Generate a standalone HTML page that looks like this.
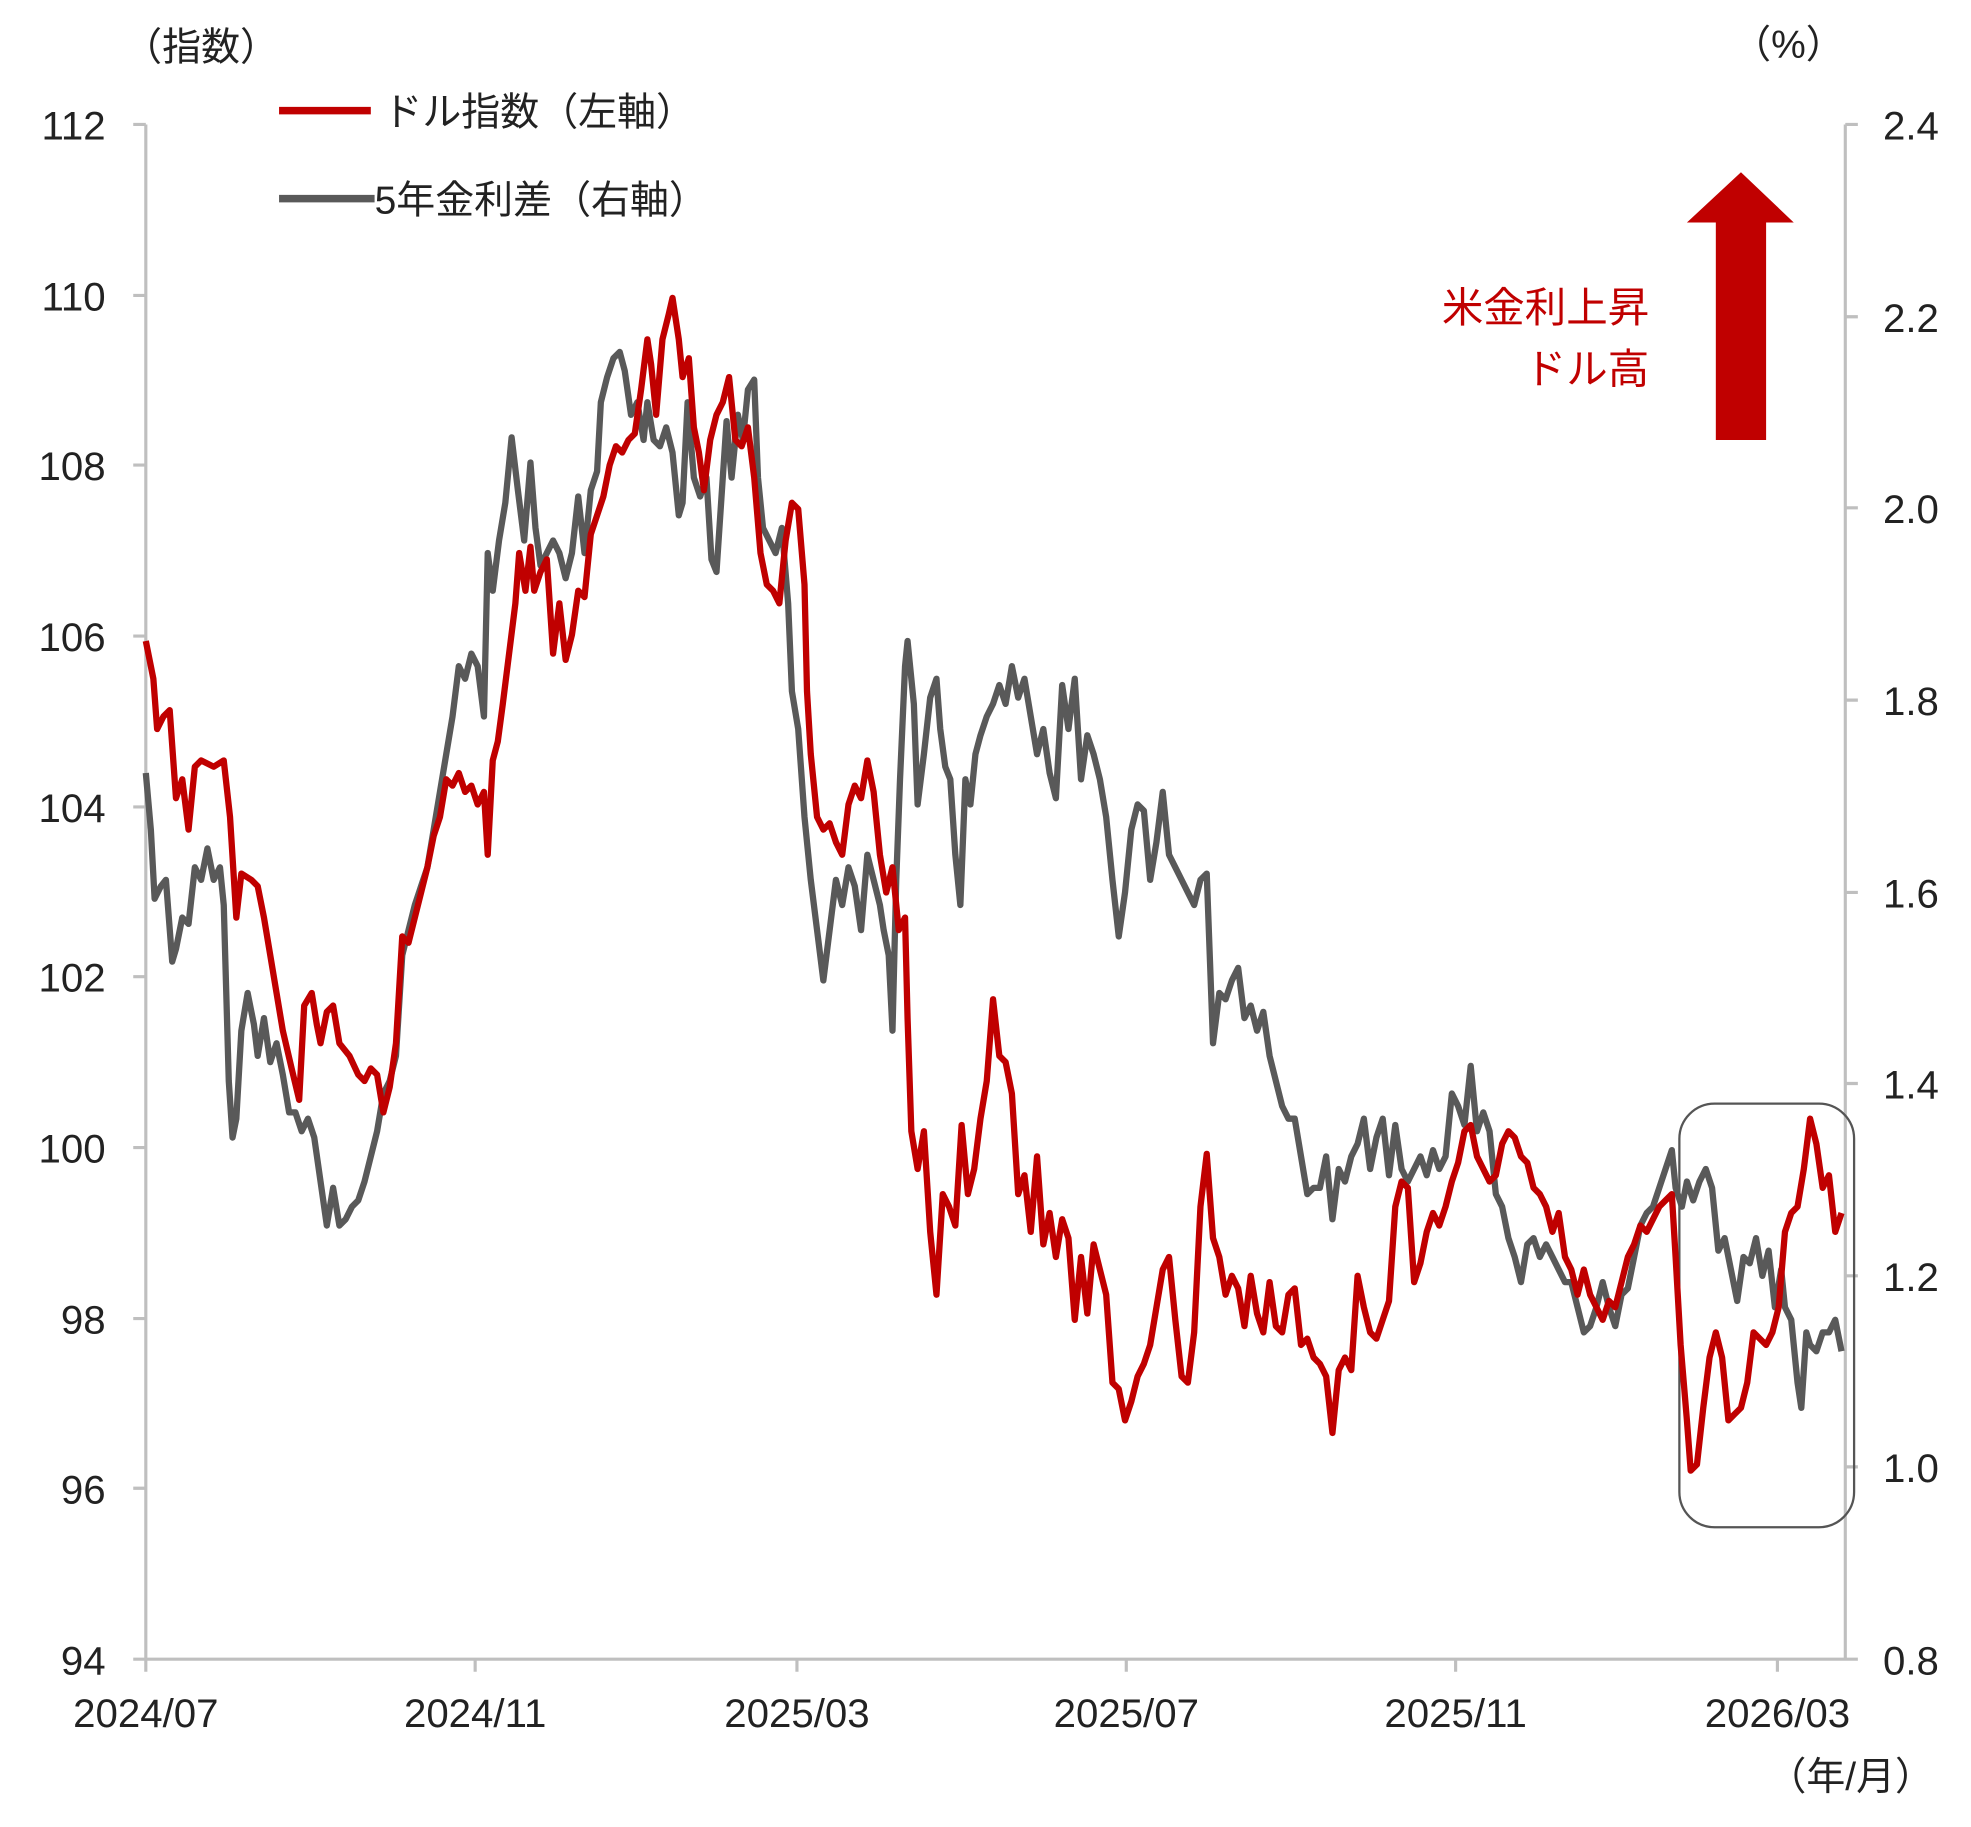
<!DOCTYPE html>
<html><head><meta charset="utf-8"><style>html,body{margin:0;padding:0;background:#fff}svg{display:block}
text{font-family:"Liberation Sans","Noto Sans CJK JP",sans-serif;}</style></head><body>
<svg width="1971" height="1827" viewBox="0 0 1568 1453.5" preserveAspectRatio="none" xmlns="http://www.w3.org/2000/svg">
<g stroke="#bfbfbf" stroke-width="2.5" fill="none">
<line x1="116" y1="99" x2="116" y2="1320"/><line x1="1468" y1="99" x2="1468" y2="1320"/><line x1="106" y1="1320" x2="1478" y2="1320"/>
<path d="M106 99H116M106 235H116M106 370H116M106 506H116M106 642H116M106 777H116M106 913H116M106 1049H116M106 1184H116"/>
<path d="M1468 99H1478M1468 252H1478M1468 404H1478M1468 557H1478M1468 710H1478M1468 862H1478M1468 1015H1478M1468 1167H1478"/>
<path d="M116 1320V1330M378 1320V1330M634 1320V1330M896 1320V1330M1158 1320V1330M1414 1320V1330"/>
</g>
<g font-size="32" fill="#222" text-anchor="end">
<text x="84" y="111">112</text><text x="84" y="247">110</text><text x="84" y="382">108</text><text x="84" y="518">106</text><text x="84" y="654">104</text><text x="84" y="789">102</text><text x="84" y="925">100</text><text x="84" y="1061">98</text><text x="84" y="1196">96</text><text x="84" y="1332">94</text>
</g>
<g font-size="32" fill="#222">
<text x="1498" y="111">2.4</text><text x="1498" y="264">2.2</text><text x="1498" y="416">2.0</text><text x="1498" y="569">1.8</text><text x="1498" y="722">1.6</text><text x="1498" y="874">1.4</text><text x="1498" y="1027">1.2</text><text x="1498" y="1179">1.0</text><text x="1498" y="1332">0.8</text>
</g>
<g font-size="32" fill="#222" text-anchor="middle">
<text x="116" y="1374">2024/07</text><text x="378" y="1374">2024/11</text><text x="634" y="1374">2025/03</text><text x="896" y="1374">2025/07</text><text x="1158" y="1374">2025/11</text><text x="1414" y="1374">2026/03</text>
</g>
<g font-size="31" fill="#222">
<text x="98" y="48">（指数）</text><text x="1378" y="46">（%）</text><text x="1406" y="1424">（年/月）</text>
<text x="305" y="100">ドル指数（左軸）</text><text x="298" y="170">5年金利差（右軸）</text>
</g>
<line x1="222" y1="88" x2="295" y2="88" stroke="#c00000" stroke-width="6"/>
<line x1="222" y1="158" x2="298" y2="158" stroke="#595959" stroke-width="6"/>
<g font-size="33" fill="#c00000" text-anchor="end"><text x="1312" y="256">米金利上昇</text><text x="1312" y="305">ドル高</text></g>
<path d="M1365 350V177H1342L1385 137L1427 177H1405V350Z" fill="#c00000"/>
<rect x="1336" y="878" width="139" height="337" rx="28" fill="none" stroke="#555" stroke-width="1.8"/>
<g fill="none" stroke-width="5" stroke-linejoin="round">
<polyline stroke="#595959" points="116,615 120,660 123,715 128,705 132,700 137,765 140,755 145,730 150,735 155,690 160,700 165,675 170,700 175,690 178,720 182,860 185,905 188,890 192,820 197,790 202,815 205,840 210,810 215,845 220,830 225,855 230,885 235,885 240,900 245,890 250,905 255,940 260,975 265,945 270,975 275,970 280,960 285,955 290,940 295,920 300,900 305,870 310,860 315,840 320,760 325,740 330,720 335,705 340,690 345,660 350,630 355,600 360,570 365,530 370,540 375,520 380,530 385,570 388,440 392,470 397,430 402,400 407,348 412,390 417,430 422,368 426,420 430,450 435,440 440,430 445,440 450,460 455,440 460,395 465,440 470,390 475,375 478,320 483,300 488,285 493,280 497,295 502,330 507,320 512,350 515,320 520,350 525,355 530,340 535,360 540,410 543,400 547,320 552,380 557,395 562,380 566,445 570,455 574,395 578,335 582,380 587,330 591,350 595,310 600,302 603,380 607,420 612,430 617,440 622,420 627,480 630,550 635,580 640,650 645,700 650,740 655,780 660,740 665,700 670,720 675,690 680,705 685,740 690,680 695,700 700,720 703,740 707,760 710,820 713,700 716,620 720,530 722,510 727,560 730,640 735,600 740,555 745,540 748,580 752,610 756,620 760,680 764,720 768,620 772,640 776,600 780,585 785,570 790,560 795,545 800,560 805,530 810,555 815,540 820,570 825,600 830,580 835,615 840,635 845,545 850,580 855,540 860,620 865,585 870,600 875,620 880,650 885,700 890,745 895,710 900,660 905,640 910,645 915,700 920,670 925,630 930,680 935,690 940,700 945,710 950,720 955,700 960,695 965,830 970,790 975,795 980,780 985,770 990,810 995,800 1000,820 1005,805 1010,840 1015,860 1020,880 1025,890 1030,890 1035,920 1040,950 1045,945 1050,945 1055,920 1060,970 1065,930 1070,940 1075,920 1080,910 1085,890 1090,930 1095,905 1100,890 1105,935 1110,895 1115,930 1120,940 1125,930 1130,920 1135,935 1140,915 1145,930 1150,920 1155,870 1160,880 1165,895 1170,848 1175,900 1180,885 1185,900 1190,950 1195,960 1200,985 1205,1000 1210,1020 1215,990 1220,985 1225,1000 1230,990 1235,1000 1240,1010 1245,1020 1250,1020 1255,1040 1260,1060 1265,1055 1270,1040 1275,1020 1280,1040 1285,1055 1290,1030 1295,1025 1300,1000 1305,975 1310,965 1315,960 1320,945 1325,930 1330,915 1333,945 1338,960 1342,940 1347,955 1352,940 1357,930 1362,945 1367,995 1372,985 1377,1010 1382,1035 1387,1000 1392,1005 1397,985 1402,1015 1407,995 1412,1040 1417,1010 1420,1040 1425,1050 1430,1100 1433,1120 1437,1060 1440,1070 1445,1075 1450,1060 1455,1060 1460,1050 1465,1075"/>
<polyline stroke="#c00000" points="116,510 122,540 125,580 130,570 135,565 140,635 145,620 150,660 155,610 160,605 170,610 178,605 183,650 188,730 192,695 200,700 205,705 210,730 215,760 220,790 225,820 232,850 238,875 242,800 248,790 252,815 255,830 260,805 265,800 270,830 278,840 285,855 290,860 295,850 300,855 305,885 310,865 315,830 320,745 325,750 330,730 335,710 340,690 345,665 350,650 355,620 360,625 365,615 370,630 375,625 380,640 385,630 388,680 392,605 396,590 400,560 405,520 410,480 413,440 418,470 422,435 425,470 430,455 435,445 440,520 445,480 450,525 455,505 460,470 465,475 470,425 475,410 480,395 485,370 490,355 495,360 500,350 505,345 510,310 515,270 518,290 522,330 527,270 532,250 535,237 540,270 543,300 548,285 552,340 556,360 560,390 565,350 570,330 575,320 580,300 585,350 590,355 595,340 600,380 605,440 610,465 615,470 620,480 625,430 630,400 635,405 640,465 642,550 645,600 650,650 655,660 660,655 665,670 670,680 675,640 680,625 685,635 690,605 695,630 700,680 705,710 710,690 715,740 720,730 722,810 725,900 730,930 735,900 740,980 745,1030 750,950 755,960 760,975 765,895 770,950 775,930 780,890 785,860 790,795 795,840 800,845 805,870 810,950 815,935 820,980 825,920 830,990 835,965 840,1000 845,970 850,985 855,1050 860,1000 865,1045 870,990 875,1010 880,1030 885,1100 890,1105 895,1130 900,1115 905,1095 910,1085 915,1070 920,1040 925,1010 930,1000 935,1050 940,1095 945,1100 950,1060 955,960 960,918 965,985 970,1000 975,1030 980,1015 985,1025 990,1055 995,1015 1000,1045 1005,1060 1010,1020 1015,1055 1020,1060 1025,1030 1030,1025 1035,1070 1040,1065 1045,1080 1050,1085 1055,1095 1060,1140 1065,1090 1070,1080 1075,1090 1080,1015 1085,1040 1090,1060 1095,1065 1100,1050 1105,1035 1110,960 1115,940 1120,945 1125,1020 1130,1005 1135,980 1140,965 1145,975 1150,960 1155,940 1160,925 1165,900 1170,895 1175,920 1180,930 1185,940 1190,935 1195,910 1200,900 1205,905 1210,920 1215,925 1220,945 1225,950 1230,960 1235,980 1240,965 1245,1000 1250,1010 1255,1030 1260,1010 1265,1030 1270,1040 1275,1050 1280,1035 1285,1040 1290,1020 1295,1000 1300,990 1305,975 1310,980 1315,970 1320,960 1325,955 1330,950 1333,1000 1337,1070 1342,1130 1345,1170 1350,1165 1355,1120 1360,1080 1365,1060 1370,1080 1375,1130 1380,1125 1385,1120 1390,1100 1395,1060 1400,1065 1405,1070 1410,1060 1415,1040 1420,980 1425,965 1430,960 1435,930 1440,890 1445,910 1450,945 1455,935 1460,980 1465,965"/>
</g>
</svg>
</body></html>
